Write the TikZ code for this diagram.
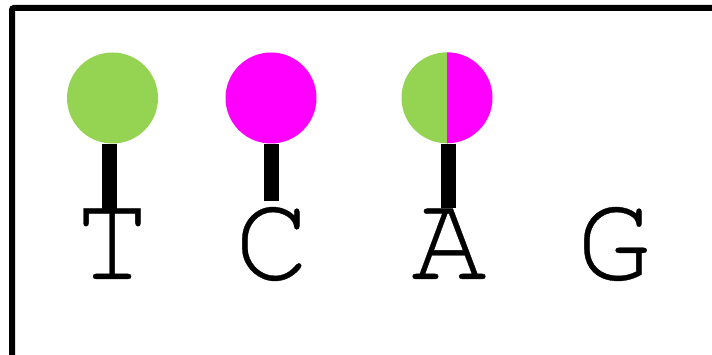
\documentclass[tikz,border=0pt]{standalone}
\usepackage{fontspec}
\newfontfamily\curfont{texgyrecursor-regular.otf}[FakeBold=0.25]
\definecolor{lgreen}{RGB}{149,211,83}
\definecolor{mag}{RGB}{255,0,255}
\begin{document}
\begin{tikzpicture}[x=1pt,y=-1pt,
  ball/.style={circle,inner sep=0pt,minimum size=91pt},
  stem/.style={line width=15pt},
  base/.style={anchor=base,inner sep=0pt,font=\fontsize{125}{125}\curfont}]
\useasboundingbox (0,0) rectangle (712,355);
\clip (0,0) rectangle (712,355);
\draw[line width=6pt,rounded corners=2pt] (12,8) rectangle (740,380);
% letters
\node[base] (t) at (112,279) {T};
\node[base] (c) at (272,279) {C};
\node[base] (a) at (449,279) {A};
\node[base] (g) at (614,279) {G};
% stem ends
\coordinate (te) at (109.5,209);
\coordinate (ce) at (271,201);
\coordinate (ae) at (448,208);
% balls
\node[ball,fill=lgreen] (b1) at (112.5,98) {};
\node[ball,fill=mag] (b2) at (271,98) {};
\node[ball] (b3) at (447,98) {};
\fill[lgreen] (b3.north) arc[start angle=90,end angle=270,radius=45.5pt] -- cycle;
\fill[mag] (b3.north) arc[start angle=90,end angle=-90,radius=45.5pt] -- cycle;
\draw[stem] (b1.south -| te) -- (te);
\draw[stem] (b2.south -| ce) -- (ce);
\draw[stem] (b3.south -| ae) -- (ae);
\end{tikzpicture}
\end{document}
